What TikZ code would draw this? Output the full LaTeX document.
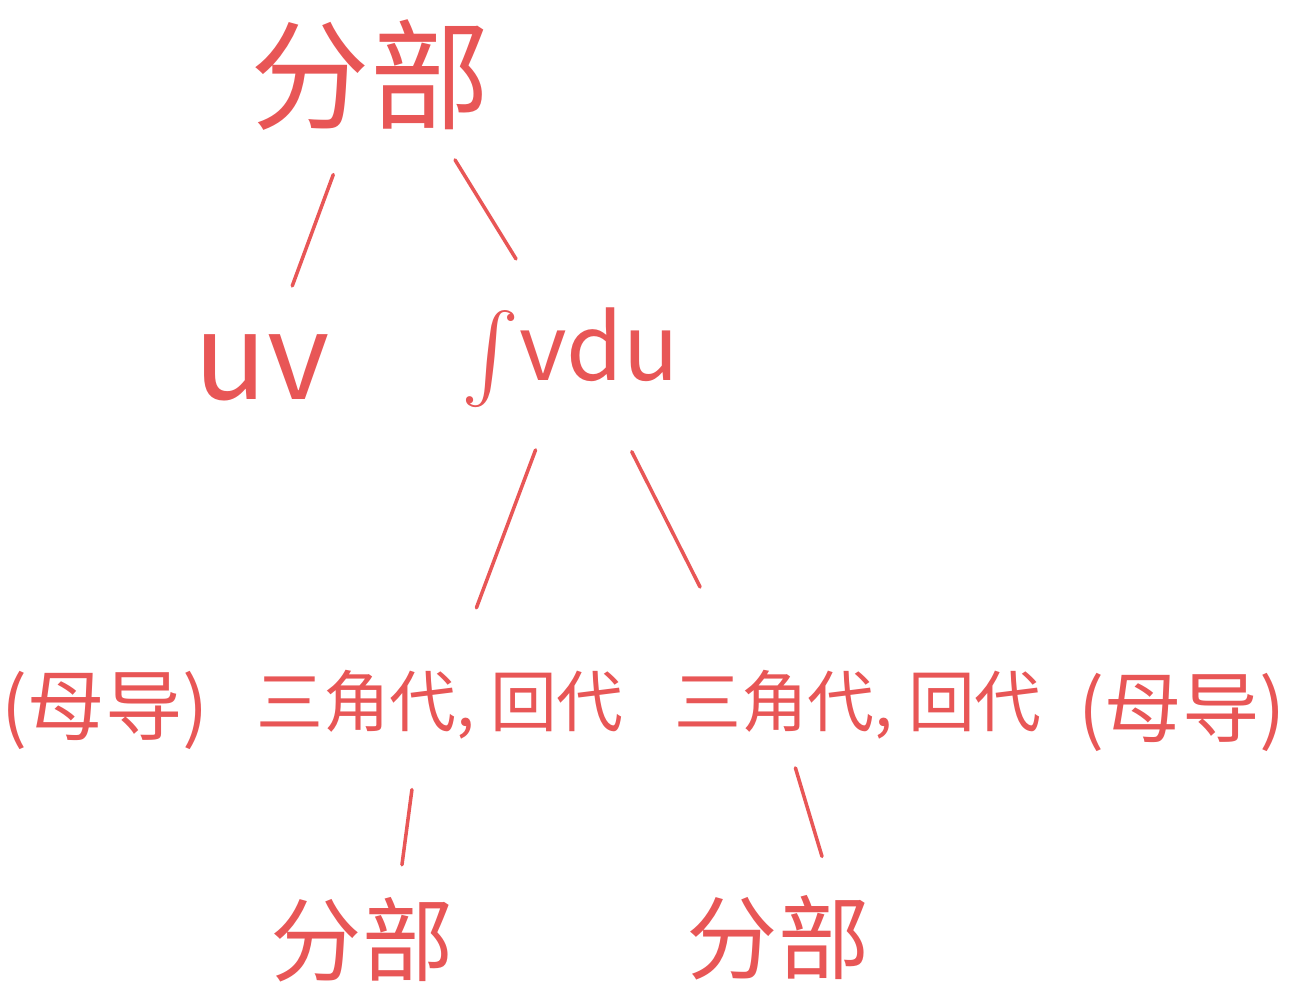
\documentclass[tikz,border=0pt]{standalone}
\usepackage{fontspec}
\usepackage{amsmath}
\newfontfamily\cjk{Noto Sans CJK SC}
\usetikzlibrary{calc}
\definecolor{hand}{RGB}{232,86,86}

\begin{document}
\begin{tikzpicture}[
        word/.style={text=hand, inner sep=1pt, font=\cjk\fontsize{19}{24}\selectfont},
        bigword/.style={text=hand, inner sep=1pt, font=\cjk\fontsize{34}{40}\selectfont},
        midword/.style={text=hand, inner sep=1pt, font=\cjk\fontsize{26}{30}\selectfont},
        stroke/.style={draw=hand, line width=1pt, line cap=round}
    ]
    \useasboundingbox (0,0) rectangle (13.03,10);
    
    \node[bigword] (top) at (3.70,9.25) {分部};
    \node[bigword] (uv) at (2.62,6.32) {uv};
    \node[midword] (int) at (5.70,6.42) {$\int$vdu};
    
    \node[word, font=\cjk\fontsize{22}{26}\selectfont] (mu1) at (1.05,2.90) {(母导)};
    \node[word] (tri1) at (4.40,2.95) {三角代, 回代};
    \node[word] (tri2) at (8.58,2.95) {三角代, 回代};
    \node[word, font=\cjk\fontsize{22}{26}\selectfont] (mu2) at (11.82,2.88) {(母导)};
    
    \node[midword] (bot1) at (3.62,0.60) {分部};
    \node[midword] (bot2) at (7.78,0.62) {分部};
    
    \draw[stroke] ($(top)!.34!(uv)$) -- ($(top)!.72!(uv)$);
    \draw[stroke] ($(top)!.30!(int)+(.25,0)$) -- ($(top)!.65!(int)+(.16,0)$);
    
    \draw[stroke] ($(int)!.265!(tri1)$) -- ($(int)!.72!(tri1)$);
    \draw[stroke] ($(int)!.27!(tri2)+(-.16,0)$) -- ($(int)!.66!(tri2)+(-.6,0)$);
    
    \draw[stroke] ($(tri1)!.36!(bot1)$) -- ($(tri1)!.68!(bot1)+(.15,0)$);
    \draw[stroke] ($(tri2)!.27!(bot2)+(-.41,0)$) -- ($(tri2)!.65!(bot2)+(.16,0)$);
    
\end{tikzpicture}
\end{document}
